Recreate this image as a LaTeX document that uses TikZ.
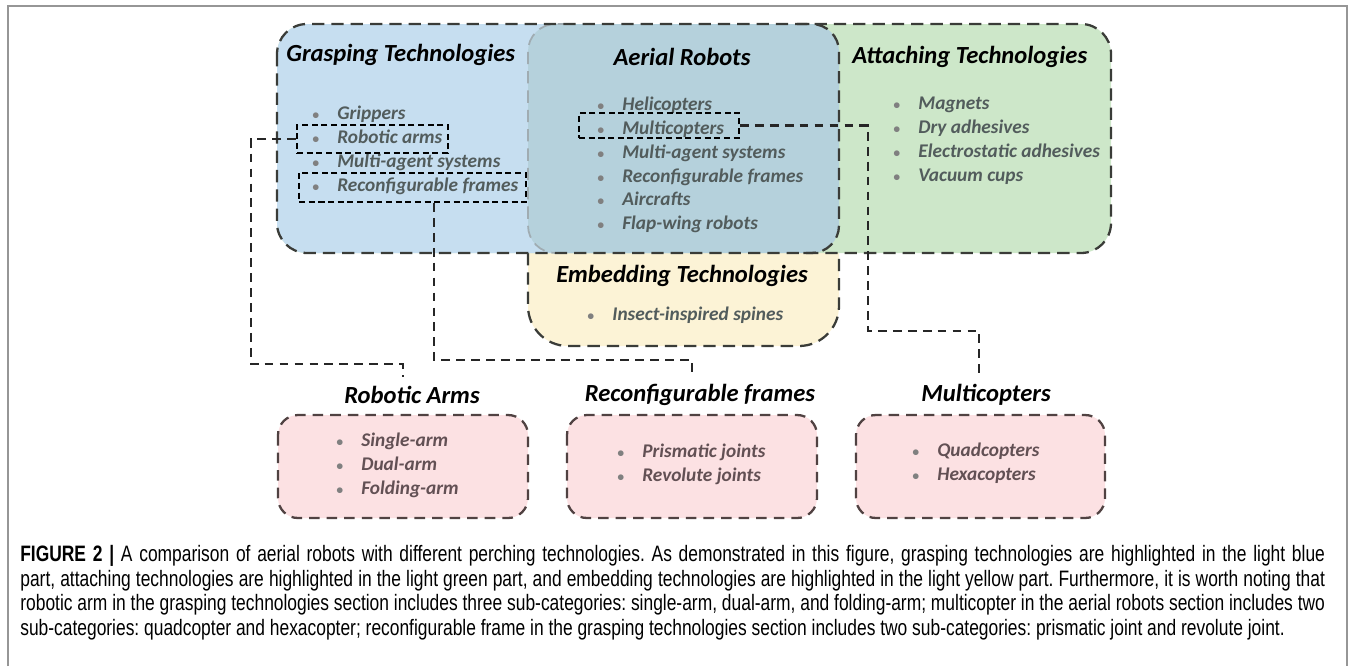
\documentclass[tikz,border=0pt]{standalone}
\usepackage{fontspec}
\setmainfont{Carlito}
\newfontfamily\capfont[FakeStretch=0.78]{Liberation Sans}
\usepackage{graphicx}
\usepackage{tikz}
\usetikzlibrary{shapes,arrows}
\usetikzlibrary{positioning}
\usetikzlibrary{calc}
\definecolor{myblue}{RGB}{198,222,240}
\definecolor{myaerial}{RGB}{181,209,220}
\definecolor{mygreen}{RGB}{205,231,201}
\definecolor{myyellow}{RGB}{252,243,214}
\definecolor{mypink}{RGB}{252,225,227}
\definecolor{myline}{RGB}{58,60,56}
\definecolor{mygrey}{RGB}{160,172,178}
\definecolor{myitem}{RGB}{82,92,92}
\definecolor{mypinkline}{RGB}{80,66,66}
\definecolor{mypinkitem}{RGB}{98,80,84}
\definecolor{myframe}{RGB}{150,150,150}
\newcommand\myitem[1]{\makebox[0.5cm][l]{\color{gray}\scalebox{0.7}{\textbullet}}#1}
\newcommand\mylist[4][]{%
  \node[mylist,#1] (#2) at (#3) {#4};
}

\begin{document}
\begin{tikzpicture}[x=0.02cm, y=-0.02cm,
techbox/.style={draw=myline, line width=1.3pt, dash pattern=on 7pt off 4pt},
greybox/.style={draw=mygrey, line width=1pt, dash pattern=on 7pt off 4pt},
subbox/.style={draw=mypinkline, fill=mypink, line width=1.3pt,
  dash pattern=on 6pt off 4pt, rounded corners=0.4cm},
hlbox/.style={draw=black, line width=1.1pt, dash pattern=on 3.5pt off 2pt,
  inner sep=0pt},
link/.style={draw=black!85, line width=1.2pt, dash pattern=on 5pt off 3.5pt},
mytitle/.style={font=\fontsize{14}{16}\selectfont\bfseries\itshape, inner sep=0pt},
mylist/.style={font=\fontsize{11}{13.5}\selectfont\bfseries\itshape,
  text=myitem, align=left, inner sep=0pt, anchor=north west}
]
\useasboundingbox (0,0) rectangle (1354,666);
\draw[myframe, line width=0.8pt] (8,666) -- (8,6) -- (1347,6) -- (1347,666);

% embedding part
\draw[techbox, fill=myyellow, rounded corners=0.8cm]
  (528,253) -- (528,346) -- (839,346) -- (839,253);

% grasping / aerial / attaching
\fill[mygreen, rounded corners=0.6cm] (277,24) rectangle (1111,253);
\fill[myblue, rounded corners=0.6cm] (277,24) rectangle (700,253);
\fill[myaerial, rounded corners=0.55cm] (528,24) rectangle (839,253);
\draw[greybox, rounded corners=0.55cm] (570,24) -- (528,24) -- (528,253) -- (570,253);
\draw[techbox, rounded corners=0.55cm] (797,24) -- (839,24) -- (839,253) -- (797,253);
\draw[techbox, rounded corners=0.6cm] (277,24) rectangle (1111,253);

% sub-categories
\draw[subbox] (278,415) rectangle (528,518);
\draw[subbox] (567,415) rectangle (817,518);
\draw[subbox] (856,415) rectangle (1105,518);

\node[mytitle, anchor=west] (grasp) at (286,55) {Grasping Technologies};
\node[mytitle] (aerial) at (682,57) {Aerial Robots};
\node[mytitle, anchor=west] (attach) at (852,57) {Attaching Technologies};
\node[mytitle] (embed) at (682,276) {Embedding Technologies};
\node[mytitle] (arms) at (412,395) {Robotic Arms};
\node[mytitle] (frames) at (700,395) {Reconfigurable frames};
\node[mytitle] (multi) at (986,395) {Multicopters};

\mylist{glist}{312,106}{\myitem{Grippers}\\\myitem{Robotic arms}\\
  \myitem{Multi-agent systems}\\\myitem{Reconfigurable frames}}
\mylist{alist}{597,97}{\myitem{Helicopters}\\\myitem{Multicopters}\\
  \myitem{Multi-agent systems}\\\myitem{Reconfigurable frames}\\
  \myitem{Aircrafts}\\\myitem{Flap-wing robots}}
\mylist{tlist}{893,97}{\myitem{Magnets}\\\myitem{Dry adhesives}\\
  \myitem{Electrostatic adhesives}\\\myitem{Vacuum cups}}
\mylist{elist}{587,307}{\myitem{Insect-inspired spines}}
\mylist[text=mypinkitem]{ralist}{336,433}{\myitem{Single-arm}\\
  \myitem{Dual-arm}\\\myitem{Folding-arm}}
\mylist[text=mypinkitem]{rflist}{617,444}{\myitem{Prismatic joints}\\
  \myitem{Revolute joints}}
\mylist[text=mypinkitem]{mclist}{912,443}{\myitem{Quadcopters}\\
  \myitem{Hexacopters}}

% highlighted items
\node[hlbox, minimum width=3.02cm, minimum height=0.56cm] (hra) at (372.5,139) {};
\node[hlbox, minimum width=4.54cm, minimum height=0.58cm] (hrf) at (412.5,187.5) {};
\node[hlbox, minimum width=3.2cm, minimum height=0.5cm] (hmc) at (659,125.5) {};

\coordinate (rabend) at (251,364);
\coordinate (raend) at (403,377);
\coordinate (rfbend) at (434,360);
\coordinate (rfend) at (692,378);
\coordinate (mcbend) at (868,331);
\coordinate (mcend) at (979,377);
\draw[link] (hra.west) -| (rabend) -| (raend);
\draw[link] (hrf.south -| rfbend) -- (rfbend) -| (rfend);
\draw[link] (hmc.east) -| (mcbend) -| (mcend);

\node[anchor=north west, inner sep=0pt, text width=26.1cm, align=justify, text=black,
  font=\capfont\fontsize{12.7}{14}\selectfont\frenchspacing] (caption) at (20,545)
{\textbf{FIGURE 2 |} A comparison of aerial robots with different perching technologies. As demonstrated in this figure, grasping technologies are highlighted in the light blue\linebreak
part, attaching technologies are highlighted in the light green part, and embedding technologies are highlighted in the light yellow part. Furthermore, it is worth noting that\linebreak
robotic arm in the grasping technologies section includes three sub-categories: single-arm, dual-arm, and folding-arm; multicopter in the aerial robots section includes two\linebreak
sub-categories: quadcopter and hexacopter; reconfigurable frame in the grasping technologies section includes two sub-categories: prismatic joint and revolute joint.};
\end{tikzpicture}
\end{document}
